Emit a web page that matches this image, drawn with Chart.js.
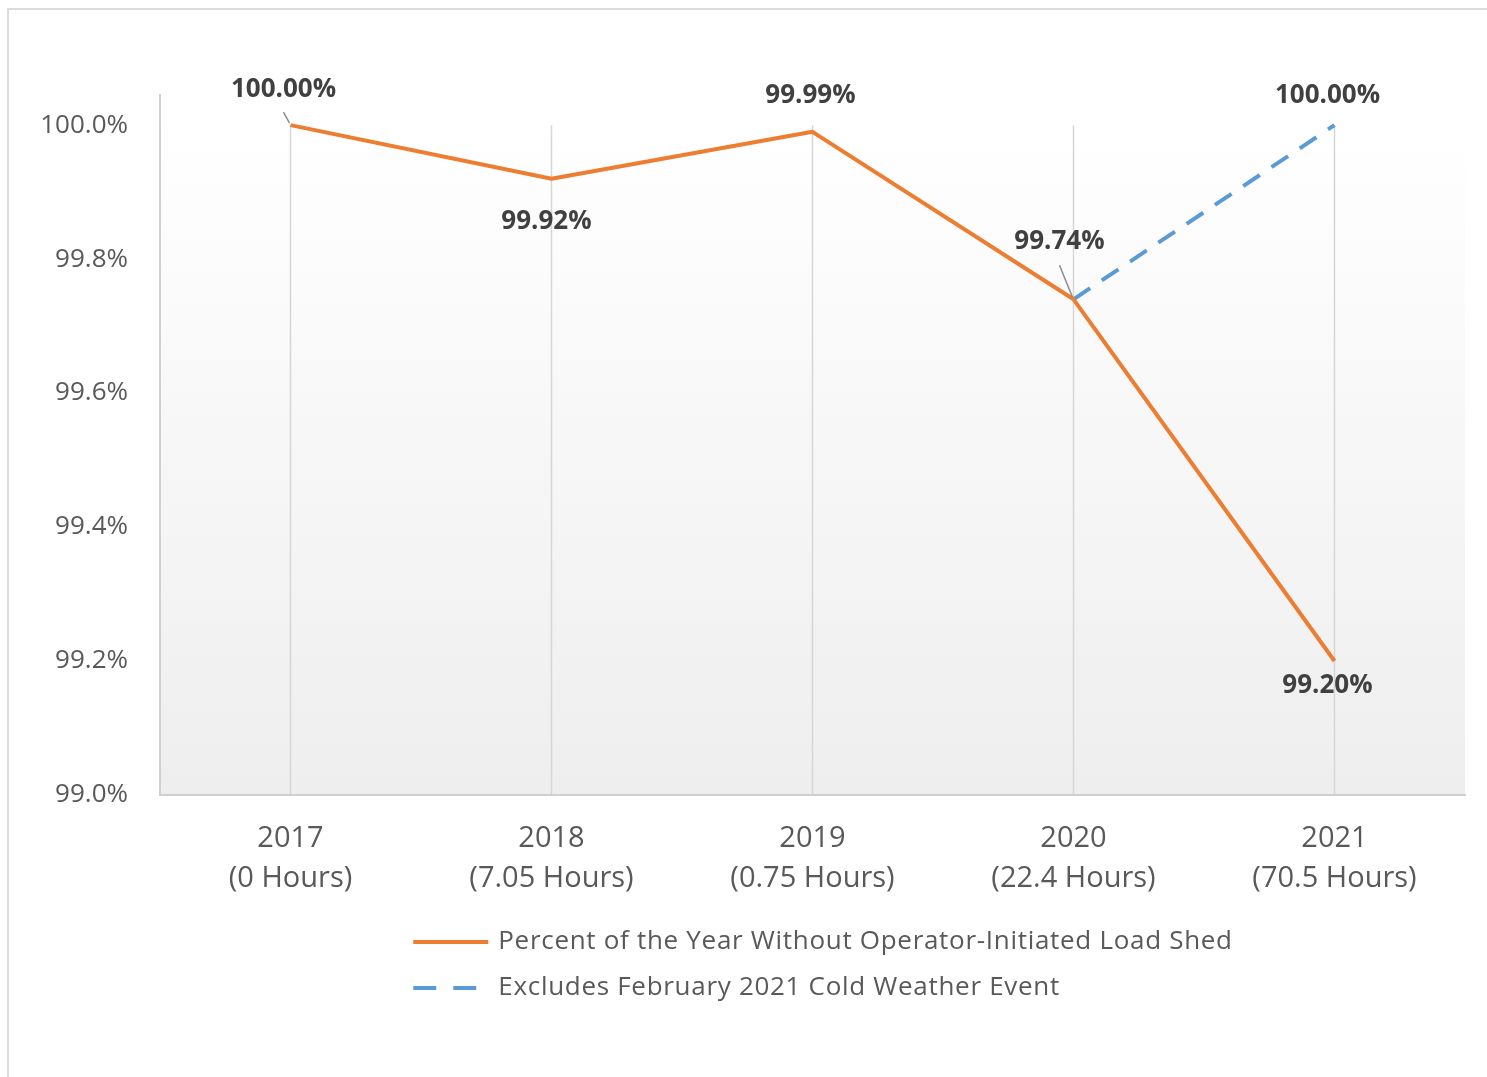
<!DOCTYPE html>
<html>
<head>
<meta charset="utf-8">
<script src="https://cdn.jsdelivr.net/npm/chart.js@4.4.1/dist/chart.umd.min.js"></script>
<style>
html,body{margin:0;padding:0;background:#fff;overflow:hidden}
#frame{position:absolute;left:7px;top:8px;width:1500px;height:1100px;border:2px solid #dcdcdc;box-sizing:border-box}
#wrap{position:absolute;left:0;top:0;width:1487px;height:1077px}
</style>
</head>
<body>
<div id="frame"></div>
<div id="wrap"><canvas id="chart"></canvas></div>
<script>
// values
var years = ["2017", "2018", "2019", "2020", "2021"];
var hours = ["(0 Hours)", "(7.05 Hours)", "(0.75 Hours)", "(22.4 Hours)", "(70.5 Hours)"];
var pctWithoutShed = [100.00, 99.92, 99.99, 99.74, 99.20];
var pctExclFeb2021 = [null, null, null, 99.74, 100.00];
var yTicks = [99.0, 99.2, 99.4, 99.6, 99.8, 100.0];

var ORANGE = "#ed7d31", BLUE = "#5b9bd5";
var FONT = '"Open Sans", "Liberation Sans", sans-serif';

// where each value label sits relative to its point (style only)
var labelPos = [
  [{dx:-7, dy:-36, lead:[-7,-13]}, {dx:-5, dy:43}, {dx:-2, dy:-36}, {dx:-14, dy:-58, lead:[-14,-34]}, {dx:-7, dy:25}],
  [null, null, null, null, {dx:-7, dy:-30}]
];

var plotBg = {
  id: "plotBg",
  beforeDraw: function(chart){
    var ctx = chart.ctx, a = chart.chartArea, x = chart.scales.x, y = chart.scales.y;
    var top = y.getPixelForValue(yTicks[yTicks.length - 1]);
    var g = ctx.createLinearGradient(0, top, 0, a.bottom);
    g.addColorStop(0, "#ffffff");
    g.addColorStop(0.12, "#fdfdfd");
    g.addColorStop(1, "#eeeeee");
    ctx.save();
    ctx.fillStyle = g;
    ctx.fillRect(a.left, top, a.right - a.left, a.bottom - top);
    ctx.strokeStyle = "#d6d6d6";
    ctx.lineWidth = 1.5;
    for (var i = 0; i < years.length; i++) {
      var px = x.getPixelForTick(i);
      ctx.beginPath(); ctx.moveTo(px, top); ctx.lineTo(px, a.bottom); ctx.stroke();
    }
    ctx.restore();
  }
};

var valueLabels = {
  id: "valueLabels",
  afterDatasetsDraw: function(chart){
    var ctx = chart.ctx;
    ctx.save();
    ctx.font = "bold 26px " + FONT;
    ctx.textAlign = "center";
    ctx.textBaseline = "middle";
    chart.data.datasets.forEach(function(ds, di){
      var meta = chart.getDatasetMeta(di);
      meta.data.forEach(function(pt, i){
        var p = labelPos[di][i];
        if (!p || ds.data[i] == null) return;
        if (p.lead) {
          ctx.strokeStyle = "#8c8c8c";
          ctx.lineWidth = 1.5;
          ctx.beginPath();
          ctx.moveTo(pt.x + p.lead[0], pt.y + p.lead[1]);
          ctx.lineTo(pt.x - 1, pt.y - 2);
          ctx.stroke();
        }
        ctx.fillStyle = "#404040";
        ctx.fillText(ds.data[i].toFixed(2) + "%", pt.x + p.dx, pt.y + p.dy);
      });
    });
    ctx.restore();
  }
};

var legendRows = {
  id: "legendRows",
  afterDraw: function(chart){
    var ctx = chart.ctx;
    var sw = 75, gap = 10, legendDash = [23, 17];
    ctx.save();
    ctx.font = "26px " + FONT;
    ctx.letterSpacing = "0.7px";
    var w = 0;
    chart.data.datasets.forEach(function(d){ w = Math.max(w, ctx.measureText(d.label).width); });
    var left = 823 - (sw + gap + w) / 2;
    chart.data.datasets.forEach(function(d, i){
      var cy = 942 + i * 46;
      ctx.strokeStyle = d.borderColor;
      ctx.lineWidth = d.borderWidth;
      ctx.setLineDash(d.borderDash ? legendDash : []);
      ctx.beginPath(); ctx.moveTo(left, cy); ctx.lineTo(left + sw, cy); ctx.stroke();
      ctx.setLineDash([]);
      ctx.fillStyle = "#595959";
      ctx.textAlign = "left";
      ctx.textBaseline = "middle";
      ctx.fillText(d.label, left + sw + gap, cy);
    });
    ctx.restore();
  }
};

new Chart(document.getElementById("chart"), {
  type: "line",
  data: {
    labels: years.map(function(y, i){ return [y, hours[i]]; }),
    datasets: [
      { label: "Percent of the Year Without Operator-Initiated Load Shed",
        data: pctWithoutShed, borderColor: ORANGE, borderWidth: 4,
        pointRadius: 0, tension: 0, borderJoinStyle: "round" },
      { label: "Excludes February 2021 Cold Weather Event",
        data: pctExclFeb2021, borderColor: BLUE, borderWidth: 4, borderDash: [20, 14],
        pointRadius: 0, tension: 0 }
    ]
  },
  options: {
    responsive: true,
    maintainAspectRatio: false,
    animation: false,
    layout: { padding: { left: 0, top: 95, right: 22, bottom: 172 } },
    plugins: { legend: { display: false }, tooltip: { enabled: false } },
    scales: {
      x: {
        offset: true,
        grid: { display: false },
        border: { display: true, color: "#d0d0d0", width: 2 },
        ticks: { color: "#595959", padding: 16, font: { family: FONT, size: 29, lineHeight: "40px" } },
        afterFit: function(s){ s.height = 110; }
      },
      y: {
        min: 99.0,
        max: 100.045,
        grid: { display: false, drawTicks: false },
        border: { display: true, color: "#d0d0d0", width: 2 },
        afterBuildTicks: function(s){ s.ticks = yTicks.map(function(v){ return { value: v }; }); },
        ticks: {
          color: "#595959", padding: 32,
          font: { family: FONT, size: 26 },
          callback: function(v){ return Number(v).toFixed(1) + "%"; }
        },
        afterFit: function(s){ s.width = 160; }
      }
    }
  },
  plugins: [plotBg, valueLabels, legendRows]
});
</script>
</body>
</html>
